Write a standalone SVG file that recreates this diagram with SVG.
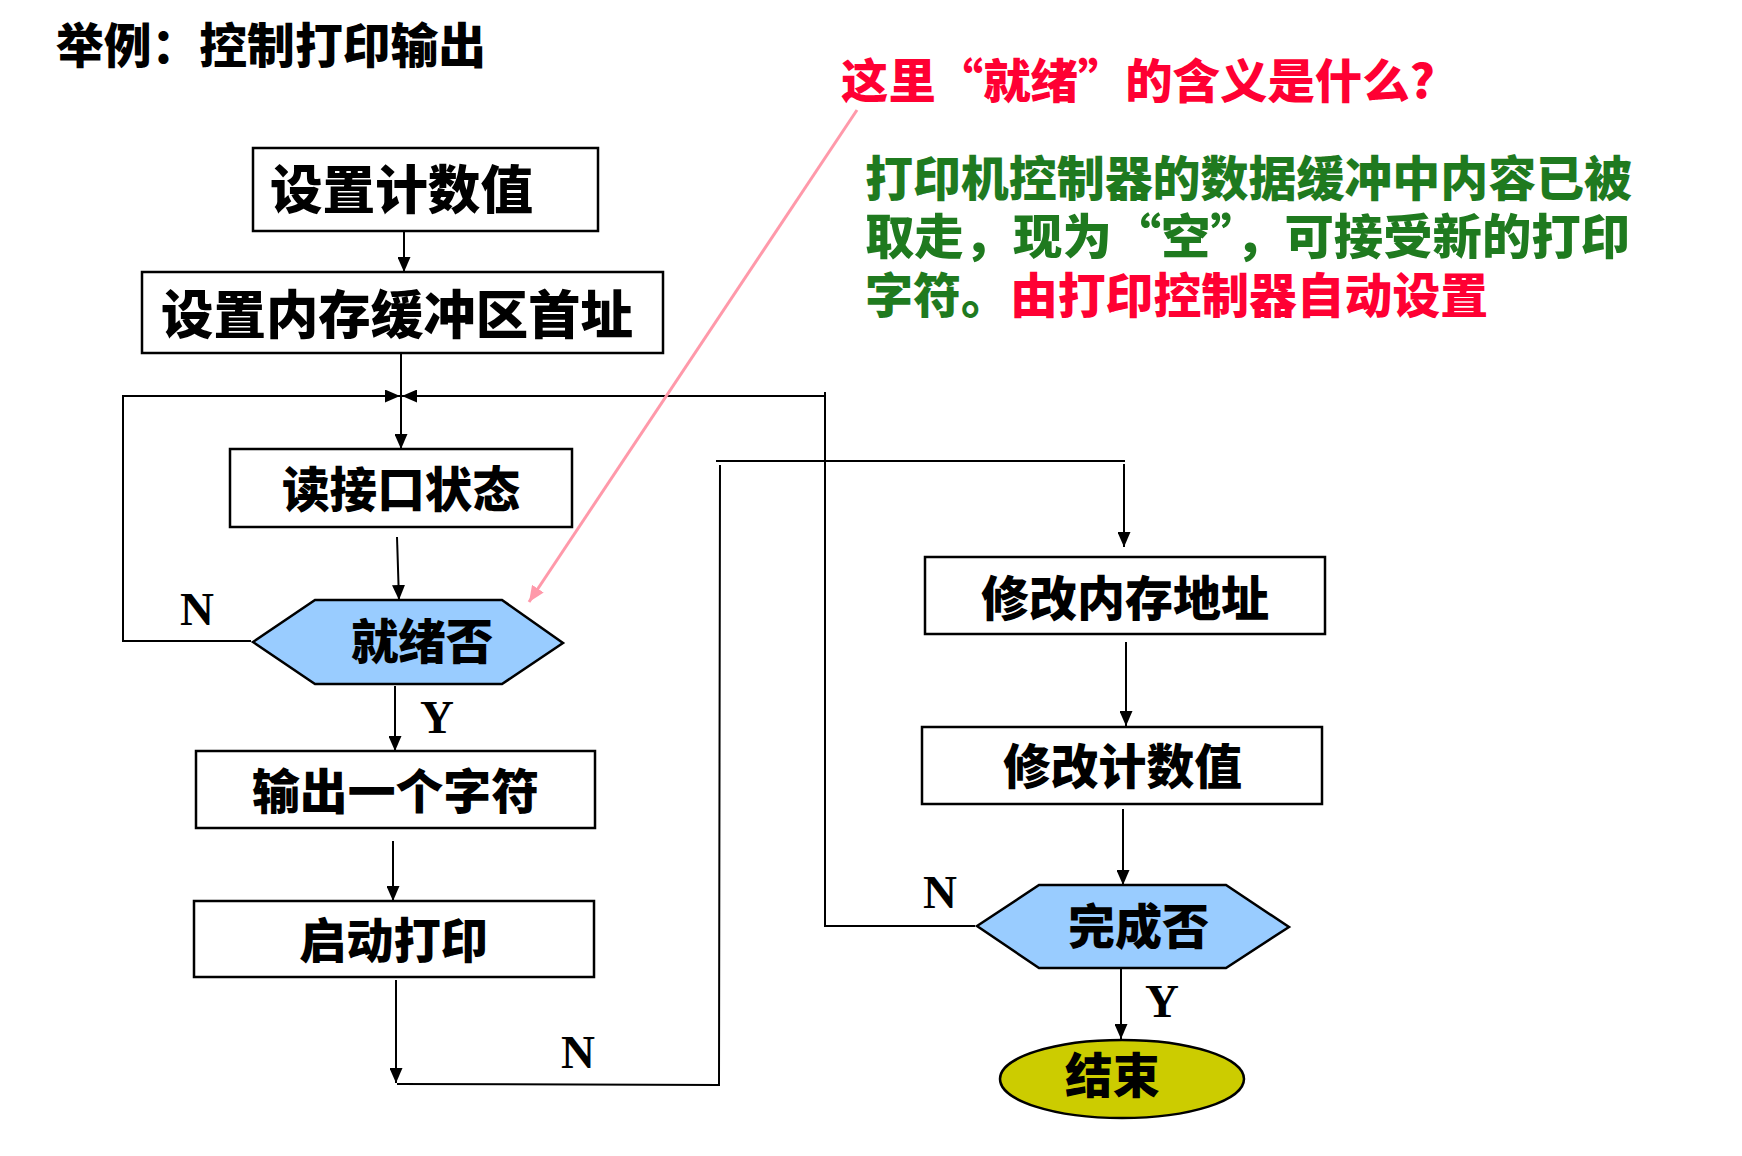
<svg xmlns="http://www.w3.org/2000/svg" width="1742" height="1156" viewBox="0 0 1742 1156">
<style>
.cn{font-family:"Noto Sans CJK SC","Noto Sans",sans-serif;font-weight:900}
.box{fill:#ffffff;stroke:#000000;stroke-width:2.5}
.dec{fill:#99ccff;stroke:#000000;stroke-width:2.5}
.ln{fill:none;stroke:#000000;stroke-width:2}
.yn{font-family:"Liberation Serif",serif;font-weight:bold;font-size:47px;fill:#000000}
</style>
<defs>
<marker id="arr" markerUnits="userSpaceOnUse" markerWidth="15" markerHeight="13" viewBox="0 0 15 13" refX="15" refY="6.5" orient="auto"><path d="M0,0 L15,6.5 L0,13 z" fill="#000000"/></marker>
<marker id="parr" markerUnits="userSpaceOnUse" markerWidth="16" markerHeight="14" viewBox="0 0 16 14" refX="16" refY="7" orient="auto"><path d="M0,0 L16,7 L0,14 z" fill="#ff99aa"/></marker>
</defs>
<rect width="1742" height="1156" fill="#ffffff"/>

<text class="cn" x="56" y="63" font-size="48" fill="#000000" textLength="430" lengthAdjust="spacingAndGlyphs">举例：控制打印输出</text>
<text class="cn" x="841" y="98" font-size="47" fill="#ff0033" textLength="594" lengthAdjust="spacingAndGlyphs">这里“就绪”的含义是什么?</text>
<g id="explain">
<text class="cn" font-size="48" fill="#1f7a1f"><tspan x="865" y="196" textLength="767" lengthAdjust="spacingAndGlyphs">打印机控制器的数据缓冲中内容已被</tspan><tspan x="865" y="254" textLength="765" lengthAdjust="spacingAndGlyphs">取走，现为“空”，可接受新的打印</tspan><tspan x="865" y="313" textLength="144" lengthAdjust="spacingAndGlyphs">字符。</tspan><tspan x="1010" y="313" fill="#ff0033" textLength="478" lengthAdjust="spacingAndGlyphs">由打印控制器自动设置</tspan></text>
</g>

<g id="connectors">
<path class="ln" d="M404,231 L404,272" marker-end="url(#arr)"/>
<path class="ln" d="M401,353 L401,449" marker-end="url(#arr)"/>
<path class="ln" d="M251,641 L123,641 L123,396 L400,396" marker-end="url(#arr)"/>
<path class="ln" d="M975,926 L825,926 L825,392 M825,396 L402,396" marker-end="url(#arr)"/>
<path class="ln" d="M397,537 L399,600" marker-end="url(#arr)"/>
<path class="ln" d="M395,686 L395,751" marker-end="url(#arr)"/>
<path class="ln" d="M393,841 L393,901" marker-end="url(#arr)"/>
<path class="ln" d="M396,980 L396,1083" marker-end="url(#arr)"/>
<path class="ln" d="M397,1084 L719,1085 L720,465"/>
<path class="ln" d="M716,461 L1125,461"/>
<path class="ln" d="M1124,464 L1124,547" marker-end="url(#arr)"/>
<path class="ln" d="M1126,642 L1126,726" marker-end="url(#arr)"/>
<path class="ln" d="M1123,809 L1123,885" marker-end="url(#arr)"/>
<path class="ln" d="M1121,969 L1121,1039" marker-end="url(#arr)"/>
<path d="M857,110 L529,602" fill="none" stroke="#ff99aa" stroke-width="3" marker-end="url(#parr)"/>
<text class="yn" x="180" y="625">N</text>
<text class="yn" x="420" y="733">Y</text>
<text class="yn" x="561" y="1068">N</text>
<text class="yn" x="923" y="908">N</text>
<text class="yn" x="1145" y="1017">Y</text>
</g>

<g id="n1"><rect class="box" x="253" y="148" width="345" height="83"/>
<text class="cn" x="270" y="209" font-size="52" textLength="263" lengthAdjust="spacingAndGlyphs">设置计数值</text></g>
<g id="n2"><rect class="box" x="142" y="272" width="521" height="81"/>
<text class="cn" x="161" y="334" font-size="52" textLength="472" lengthAdjust="spacingAndGlyphs">设置内存缓冲区首址</text></g>
<g id="n3"><rect class="box" x="230" y="449" width="342" height="78"/>
<text class="cn" x="282" y="507" font-size="48" textLength="238" lengthAdjust="spacingAndGlyphs">读接口状态</text></g>
<g id="n4"><polygon class="dec" points="253,642 315,600 502,600 563,643 502,684 315,684"/>
<text class="cn" x="351" y="659" font-size="48" textLength="142" lengthAdjust="spacingAndGlyphs">就绪否</text></g>
<g id="n5"><rect class="box" x="196" y="751" width="399" height="77"/>
<text class="cn" x="252" y="809" font-size="48" textLength="287" lengthAdjust="spacingAndGlyphs">输出一个字符</text></g>
<g id="n6"><rect class="box" x="194" y="901" width="400" height="76"/>
<text class="cn" x="299" y="958" font-size="48" textLength="189" lengthAdjust="spacingAndGlyphs">启动打印</text></g>
<g id="n7"><rect class="box" x="925" y="557" width="400" height="77"/>
<text class="cn" x="981" y="616" font-size="48" textLength="288" lengthAdjust="spacingAndGlyphs">修改内存地址</text></g>
<g id="n8"><rect class="box" x="922" y="727" width="400" height="77"/>
<text class="cn" x="1003" y="784" font-size="48" textLength="239" lengthAdjust="spacingAndGlyphs">修改计数值</text></g>
<g id="n9"><polygon class="dec" points="977,926 1039,885 1226,885 1289,927 1226,968 1039,968"/>
<text class="cn" x="1068" y="944" font-size="48" textLength="141" lengthAdjust="spacingAndGlyphs">完成否</text></g>
<g id="n10"><ellipse cx="1122" cy="1079" rx="122" ry="39" fill="#cccc00" stroke="#000000" stroke-width="2.5"/>
<text class="cn" x="1065" y="1093" font-size="48" textLength="95" lengthAdjust="spacingAndGlyphs">结束</text></g>
</svg>
